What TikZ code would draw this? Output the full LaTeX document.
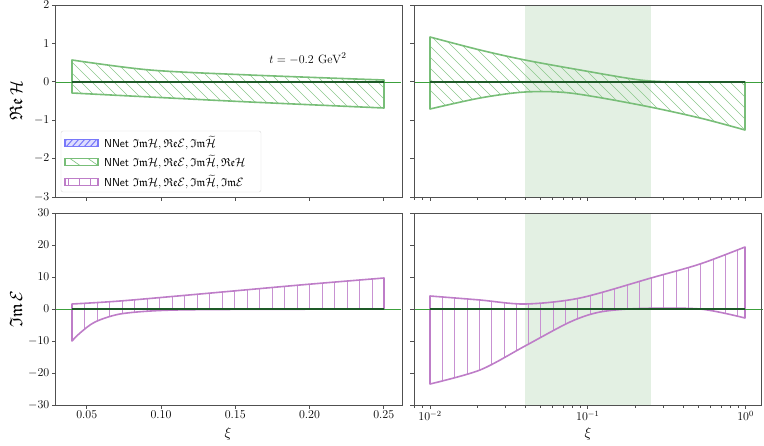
\documentclass[tikz,border=0pt]{standalone}
\usepackage{amssymb}
\usepackage{amsmath}
\definecolor{gline}{RGB}{120,190,120}
\definecolor{ghatch}{RGB}{140,200,140}
\definecolor{pline}{RGB}{190,125,200}
\definecolor{phatch}{RGB}{200,145,210}
\definecolor{bline}{RGB}{120,120,250}
\definecolor{band}{RGB}{227,240,227}
\definecolor{dgreen}{RGB}{30,90,40}
\definecolor{axgreen}{RGB}{60,160,60}
\definecolor{spine}{RGB}{80,80,80}
\tikzset{frame/.style={draw=spine,line width=0.8pt},
  gband/.style={draw=gline,line width=1.6pt,line join=round},
  pband/.style={draw=pline,line width=1.6pt,line join=round},
  tickl/.style={font=\fontsize{12}{14}\selectfont,anchor=east,inner sep=2pt},
  tickb/.style={font=\fontsize{12}{14}\selectfont,anchor=north,inner sep=2pt},
  legtxt/.style={anchor=west,font=\sffamily\fontsize{11.5}{13}\selectfont,inner sep=0pt}}
\begin{document}
\begin{tikzpicture}[x=1pt,y=-1pt]
\useasboundingbox (0,0) rectangle (764,445);
% green bands
\fill[band] (525,5) rectangle (651,197);
\fill[band] (525,213) rectangle (651,405);
% ---------- top-left
\begin{scope}
\clip plot[smooth] coordinates {(72,60)(150,70)(250,75)(384,80)} -- plot[smooth] coordinates {(384,108)(250,102)(150,97)(72,93)} -- cycle;
\foreach \x in {-60,-49,...,420} \draw[ghatch,line width=0.5pt] (\x,40)--(\x+80,120);
\end{scope}
\draw[gband] plot[smooth] coordinates {(72,60)(150,70)(250,75)(384,80)} -- plot[smooth] coordinates {(384,108)(250,102)(150,97)(72,93)} -- cycle;
\draw[axgreen,line width=0.6pt] (55.5,81.8)--(401,81.8);
\draw[dgreen,line width=1.4pt] (72,81.8)--(384,81.8);
\node[font=\fontsize{13}{15}\selectfont] at (308,59) {$t=-0.2\ \mathrm{GeV}^2$};
% ---------- top-right
\begin{scope}
\clip plot[smooth] coordinates {(430,37)(480,50)(525,60)(580,70)(640,80)(680,82)(745,82)} -- plot[smooth] coordinates {(745,130)(700,118)(640,105)(570,93)(525,92)(480,98)(430,109)} -- cycle;
\foreach \x in {360,371,...,780} \draw[ghatch,line width=0.5pt] (\x,20)--(\x+120,140);
\end{scope}
\draw[gband] plot[smooth] coordinates {(430,37)(480,50)(525,60)(580,70)(640,80)(680,82)(745,82)} -- plot[smooth] coordinates {(745,130)(700,118)(640,105)(570,93)(525,92)(480,98)(430,109)} -- cycle;
\draw[axgreen,line width=0.6pt] (414,81.8)--(763,81.8);
\draw[dgreen,line width=1.4pt] (430,81.8)--(745,81.8);
% ---------- bottom-left
\begin{scope}
\clip plot[smooth] coordinates {(72,304)(120,301)(200,294)(300,285)(384,278)} -- plot[smooth] coordinates {(384,309)(220,309.5)(160,310.5)(120,314)(95,322)(80,333)(72,341)} -- cycle;
\foreach \x in {72,84.5,...,390} \draw[phatch,line width=0.6pt] (\x,260)--(\x,350);
\end{scope}
\draw[pband] plot[smooth] coordinates {(72,304)(120,301)(200,294)(300,285)(384,278)} -- plot[smooth] coordinates {(384,309)(220,309.5)(160,310.5)(120,314)(95,322)(80,333)(72,341)} -- cycle;
\draw[axgreen,line width=0.6pt] (55.5,309)--(401,309);
\draw[dgreen,line width=1.4pt] (72,309)--(384,309);
% ---------- bottom-right
\begin{scope}
\clip plot[smooth] coordinates {(430,296)(480,300)(525,304)(580,298)(651,278)(700,264)(745,247)} -- plot[smooth] coordinates {(745,318)(700,309)(640,308.5)(600,312)(570,322)(525,346)(480,370)(430,384)} -- cycle;
\foreach \x in {430,442.3,...,750} \draw[phatch,line width=0.6pt] (\x,240)--(\x,390);
\end{scope}
\draw[pband] plot[smooth] coordinates {(430,296)(480,300)(525,304)(580,298)(651,278)(700,264)(745,247)} -- plot[smooth] coordinates {(745,318)(700,309)(640,308.5)(600,312)(570,322)(525,346)(480,370)(430,384)} -- cycle;
\draw[axgreen,line width=0.6pt] (414,309)--(763,309);
\draw[dgreen,line width=1.4pt] (430,309)--(745,309);
% ---------- frames
\foreach \X/\Y in {55.5/5,414/5,55.5/213,414/213} {
  \draw[frame] (\X,\Y) rectangle ++(347,192);}
% y ticks
\foreach \v [count=\i from 0] in {2,1,0,-1,-2,-3} {
  \pgfmathsetmacro{\yy}{5+38.4*\i}
  \draw[frame] (55.5,\yy)--(51.5,\yy); \draw[frame] (414,\yy)--(410,\yy);
  \node[tickl] at (51.5,\yy) {$\v$};}
\foreach \v [count=\i from 0] in {30,20,10,0,-10,-20,-30} {
  \pgfmathsetmacro{\yy}{213+32*\i}
  \draw[frame] (55.5,\yy)--(51.5,\yy); \draw[frame] (414,\yy)--(410,\yy);
  \node[tickl] at (51.5,\yy) {$\v$};}
% x ticks left
\foreach \lab [count=\i from 0] in {0.05,0.10,0.15,0.20,0.25} {
  \pgfmathsetmacro{\xx}{86.7+74.25*\i}
  \draw[frame] (\xx,197)--(\xx,201); \draw[frame] (\xx,405)--(\xx,409);
  \node[tickb] at (\xx,409) {$\lab$};}
% log ticks right
\foreach \d/\lab in {0/{10^{-2}},1/{10^{-1}},2/{10^{0}}} {
  \pgfmathsetmacro{\xx}{430+157.8*\d}
  \draw[frame] (\xx,197)--(\xx,201); \draw[frame] (\xx,405)--(\xx,409);
  \node[tickb] at (\xx,409) {$\lab$};}
\foreach \d in {-1,0,1} \foreach \k in {2,...,9} {
  \pgfmathsetmacro{\xx}{430+157.8*(\d+log10(\k))}
  \pgfmathparse{(\xx>414)&&(\xx<763)?1:0}
  \ifnum\pgfmathresult=1
  \draw[frame,line width=0.6pt] (\xx,197)--(\xx,199.5); \draw[frame,line width=0.6pt] (\xx,405)--(\xx,407.5);
  \fi}
% axis labels
\node[rotate=90,font=\fontsize{18}{20}\selectfont] at (16,101) {$\mathfrak{Re}\,\mathcal{H}$};
\node[rotate=90,font=\fontsize{18}{20}\selectfont] at (16,309) {$\mathfrak{Im}\,\mathcal{E}$};
\node[font=\fontsize{15}{17}\selectfont] at (228,434) {$\xi$};
\node[font=\fontsize{15}{17}\selectfont] at (588,434) {$\xi$};
% legend
\draw[draw=black!15,fill=white,fill opacity=0.85,rounded corners=2pt] (61,131) rectangle (261,192);
\begin{scope}
\clip (65,139.5) rectangle (98,146.5);
\fill[bline!25] (65,139.5) rectangle (98,146.5);
\foreach \x in {60,66,...,100} \draw[bline,line width=1pt] (\x,147)--(\x+7,139);
\end{scope}
\draw[bline,line width=1.4pt] (65,139.5) rectangle (98,146.5);
\begin{scope}
\clip (65,158.5) rectangle (98,165.5);
\foreach \x in {70,88} \draw[gline,line width=0.6pt] (\x,158.5)--(\x+10,165.5);
\end{scope}
\draw[gline,line width=1.4pt] (65,158.5) rectangle (98,165.5);
\foreach \x in {68,79,90} \draw[pline,line width=0.8pt] (\x,178.5)--(\x,185.5);
\draw[pline,line width=1.4pt] (65,178.5) rectangle (98,185.5);
\node[legtxt] at (104,143) {NNet $\mathfrak{Im}\mathcal{H},\mathfrak{Re}\mathcal{E},\mathfrak{Im}\widetilde{\mathcal{H}}$};
\node[legtxt] at (104,162) {NNet $\mathfrak{Im}\mathcal{H},\mathfrak{Re}\mathcal{E},\mathfrak{Im}\widetilde{\mathcal{H}},\mathfrak{Re}\mathcal{H}$};
\node[legtxt] at (104,182) {NNet $\mathfrak{Im}\mathcal{H},\mathfrak{Re}\mathcal{E},\mathfrak{Im}\widetilde{\mathcal{H}},\mathfrak{Im}\mathcal{E}$};
\end{tikzpicture}
\end{document}
